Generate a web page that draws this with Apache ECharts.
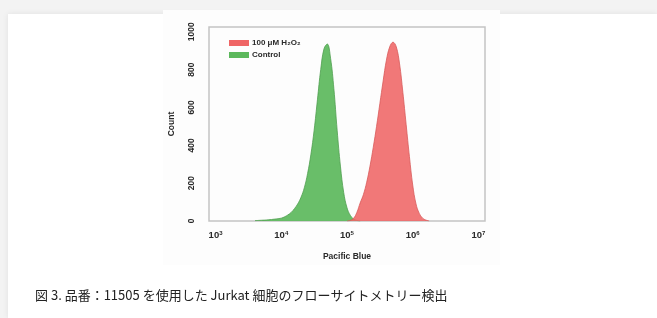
<!DOCTYPE html>
<html><head><meta charset="utf-8">
<script src="https://cdn.jsdelivr.net/npm/echarts@6/dist/echarts.min.js"></script>
<style>
html,body{margin:0;padding:0;width:657px;height:318px;background:#f3f3f3;overflow:hidden;}
#card{position:absolute;left:8px;top:14px;width:649px;height:304px;background:#fff;box-shadow:0 0 6px rgba(0,0,0,0.08);}
#img{position:absolute;left:163px;top:10px;width:337px;height:255px;background:#fdfdfd;}
#chart{position:absolute;left:0;top:0;width:657px;height:318px;}
</style></head>
<body>
<div id="card"></div><div id="img"></div>
<div id="chart"></div>
<script>
// log10(Pacific Blue) bin centres and counts
const controlX = [3.6,3.7,3.8,3.9,4.0,4.05,4.1,4.15,4.2,4.25,4.3,4.35,4.4,4.45,4.5,4.55,4.6,4.65,4.7,4.75,4.8,4.85,4.9,4.95,5.0,5.05,5.1,5.15,5.2];
const controlY = [2,4,6,10,15,22,32,45,65,90,125,175,250,350,480,640,800,910,935,860,700,480,290,150,70,30,10,3,0];
const h2o2X = [5.0,5.05,5.1,5.15,5.2,5.25,5.3,5.35,5.4,5.45,5.5,5.55,5.6,5.65,5.7,5.75,5.8,5.85,5.9,5.95,6.0,6.05,6.1,6.15,6.2,6.25];
const h2o2Y = [0,3,14,45,95,140,205,290,390,500,620,740,850,920,945,920,830,680,510,340,190,90,40,15,5,0];
const xTicks = [3,4,5,6,7];
const yTicks = [0,200,400,600,800,1000];
const seriesNames = ['100 μM H₂O₂','Control'];
const caption = '図 3. 品番：11505 を使用した Jurkat 細胞のフローサイトメトリー検出';

const lab = {fontFamily:'Liberation Sans',fontWeight:'bold',fontSize:8.5,color:'#2a2a2a'};
const chart = echarts.init(document.getElementById('chart'));
chart.setOption({
  backgroundColor:'transparent',
  animation:false,
  title:{text:caption,left:30,top:284,textStyle:{fontFamily:'Noto Sans CJK JP',fontWeight:'normal',fontSize:13,color:'#222'}},
  grid:{left:209,right:172,top:27,bottom:97,show:true,borderColor:'#c4c4c4',borderWidth:1.5,backgroundColor:'transparent'},
  legend:{data:seriesNames,orient:'vertical',left:224,top:34,itemWidth:20,itemHeight:6,itemGap:4,icon:'rect',
    textStyle:Object.assign({},lab,{fontSize:8,padding:[0,0,0,-2]})},
  xAxis:{type:'value',min:2.9,max:7.1,
    name:'Pacific Blue',nameLocation:'middle',nameGap:31,nameTextStyle:lab,
    axisLine:{show:false},axisTick:{show:false},splitLine:{show:false},
    axisLabel:Object.assign({},lab,{fontSize:9.5,customValues:xTicks,margin:9,
      formatter:v=>'10{s|'+Math.round(v)+'}',
      rich:{s:{fontFamily:'Liberation Sans',fontWeight:'bold',fontSize:6,color:'#2a2a2a',padding:[0,0,5,0]}}})},
  yAxis:{type:'value',min:0,max:1025,interval:200,
    name:'Count',nameLocation:'middle',nameGap:33,nameTextStyle:lab,
    axisLine:{show:false},axisTick:{show:false},splitLine:{show:false},
    axisLabel:Object.assign({},lab,{rotate:90,margin:13,customValues:yTicks,formatter:v=>String(v)})},
  series:[
    {name:seriesNames[1],type:'line',smooth:0.4,showSymbol:false,z:2,
     data:controlX.map((x,i)=>[x,controlY[i]]),
     itemStyle:{color:'#5cb85c'},lineStyle:{color:'#4f9e4f',width:0.8},
     areaStyle:{color:'#5cb85c',opacity:0.92}},
    {name:seriesNames[0],type:'line',smooth:0.4,showSymbol:false,z:3,
     data:h2o2X.map((x,i)=>[x,h2o2Y[i]]),
     itemStyle:{color:'#ef6565'},lineStyle:{color:'#d85a5a',width:0.8},
     areaStyle:{color:'#ef6565',opacity:0.88}}
  ]
});
</script>
</body></html>
